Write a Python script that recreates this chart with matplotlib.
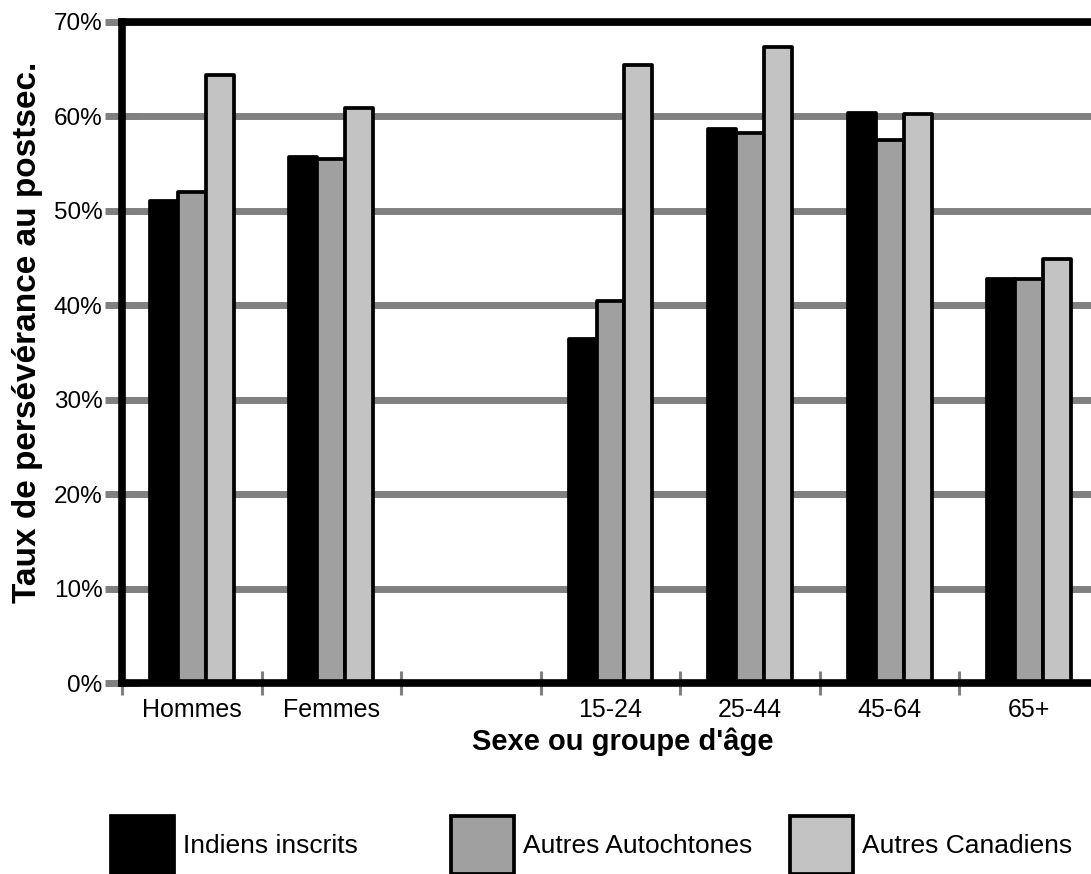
import numpy as np
import matplotlib
matplotlib.use("Agg")
from matplotlib import pyplot as plt
from matplotlib.patches import Patch

plt.rcParams['font.family'] = ['Liberation Sans', 'DejaVu Sans']

# donnees (%)
groupes = ["Hommes", "Femmes", "", "15-24", "25-44", "45-64", "65+"]
series = ["Indiens inscrits", "Autres Autochtones", "Autres Canadiens"]
indiens = [51.0, 55.7, np.nan, 36.4, 58.7, 60.4, 42.8]
autochtones = [52.0, 55.5, np.nan, 40.5, 58.2, 57.5, 42.8]
canadiens = [64.4, 60.9, np.nan, 65.4, 67.4, 60.3, 44.9]
couleurs = ["#000000", "#a0a0a0", "#c3c3c3"]

fig = plt.figure(figsize=(10.91, 8.74), dpi=100)
ax = fig.add_axes([122/1091, 1-683/874, (1099-122)/1091, (683-22)/874])

x = np.arange(len(groupes))
w = 0.2
for i, vals in enumerate([indiens, autochtones, canadiens]):
    ax.bar(x + (i-1)*w, vals, w, color=couleurs[i], edgecolor="black",
           linewidth=2.7, zorder=2, joinstyle="round")

ax.set_xlim(-0.5, 6.5)
ax.set_ylim(0, 70)
ax.set_yticks(np.arange(0, 71, 10))
ax.set_yticklabels(["%d%%" % v for v in range(0, 71, 10)], fontsize=17.5)
ax.yaxis.grid(True, color="#808080", linewidth=5)
ax.set_axisbelow(True)
ax.tick_params(axis="y", direction="inout", length=24, width=5, color="#808080", pad=2)

ax.set_xticks(x)
ax.set_xticklabels(groupes, fontsize=18)
ax.tick_params(axis="x", which="major", length=0, pad=11)
ax.set_xticks(np.arange(-0.5, 7, 1), minor=True)
ax.tick_params(axis="x", which="minor", direction="inout", length=17, width=2.2, color="#808080")

for s in ax.spines.values():
    s.set_linewidth(5.5)
    s.set_color("black")

fig.text(28/1091, 1-332/874, "Taux de persévérance au postsec.", rotation=90,
         fontsize=24, fontweight="bold", ha="center", va="center")
fig.text(623/1091, 1-750/874, "Sexe ou groupe d'âge", fontsize=21,
         fontweight="bold", ha="center", va="baseline")

# legende en bas
pos = [111/1091, 451/1091, 790/1091]
for i in range(3):
    h = Patch(facecolor=couleurs[i], edgecolor="black", linewidth=2.7)
    fig.legend([h], [series[i]], loc="center left", bbox_to_anchor=(pos[i], 1-845/874),
               frameon=False, fontsize=19, handlelength=2.39, handleheight=3.0,
               handletextpad=0.34, borderpad=0, borderaxespad=0)

fig.savefig("out.png", dpi=100)
